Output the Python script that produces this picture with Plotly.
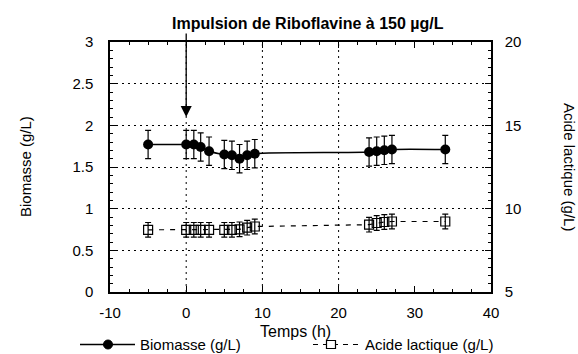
import plotly.graph_objects as go

# Temps (h)
temps_bio = [-5, 0, 1, 1.9, 3, 5, 6, 7, 8, 9, 24, 25, 26, 27, 34]
biomasse = [1.77, 1.77, 1.77, 1.74, 1.69, 1.65, 1.64, 1.60, 1.64, 1.66, 1.68, 1.69, 1.70, 1.71, 1.71]
biomasse_err = [0.17] * len(biomasse)

temps_lac = [-5, 0, 1, 1.9, 3, 5, 6, 7, 8, 9, 24, 25, 26, 27, 34]
acide_lactique = [8.73, 8.73, 8.73, 8.73, 8.73, 8.73, 8.73, 8.76, 8.86, 8.93, 9.04, 9.14, 9.20, 9.23, 9.23]
acide_err = [0.44] * len(acide_lactique)

x_ticks = [-10, 0, 10, 20, 30, 40]
x_ticktext = ["-10", "0", "10", "20", "30", "40"]
y_ticks = [0, 0.5, 1, 1.5, 2, 2.5, 3]
y2_ticks = [5, 10, 15, 20]
x_grid = [0, 10, 20]

FONT = "Liberation Sans, Arial, sans-serif"
FS = 15
DOT = "2px,4px"

fig = go.Figure()

fig.add_trace(go.Scatter(
    x=temps_bio, y=biomasse, name="Biomasse (g/L)",
    mode="lines+markers",
    line=dict(color="black", width=1.5, shape="spline", smoothing=1.0),
    marker=dict(symbol="circle", size=10, color="black"),
    error_y=dict(type="data", array=biomasse_err, color="black", thickness=1.2, width=3),
    showlegend=False,
))

fig.add_trace(go.Scatter(
    x=temps_lac, y=acide_lactique, name="Acide lactique (g/L)",
    mode="lines+markers", yaxis="y2",
    line=dict(color="black", width=1.2, dash="5px,6px"),
    marker=dict(symbol="square-open", size=9, color="black", line=dict(width=1.2)),
    error_y=dict(type="data", array=acide_err, color="black", thickness=1.2, width=3),
    showlegend=False,
))

axis_common = dict(
    showline=True, linecolor="black", linewidth=1.5, mirror="ticks",
    ticks="inside", ticklen=6, tickcolor="black",
    tickfont=dict(family=FONT, size=FS, color="black"),
    zeroline=False,
)

fig.update_layout(
    width=578, height=354,
    margin=dict(l=110, r=87, t=42, b=62, autoexpand=False),
    paper_bgcolor="white", plot_bgcolor="white",
    font=dict(family=FONT, size=FS, color="black"),
    showlegend=False,
    xaxis=dict(
        range=[-10, 40], tickvals=x_ticks, ticktext=x_ticktext,
        showgrid=False, ticklabelstandoff=6,
        minor=dict(dtick=2.5, ticks="inside", ticklen=3, tickcolor="black"),
        **axis_common,
    ),
    yaxis=dict(
        range=[0, 3], tickvals=y_ticks, ticklabelstandoff=12,
        showgrid=True, gridcolor="black", griddash=DOT, gridwidth=1,
        minor=dict(dtick=0.1, ticks="inside", ticklen=3, tickcolor="black"),
        **axis_common,
    ),
    yaxis2=dict(
        range=[5, 20], tickvals=y2_ticks, overlaying="y", side="right",
        showgrid=False, ticklabelstandoff=9,
        minor=dict(dtick=1, ticks="inside", ticklen=3, tickcolor="black"),
        showline=True, linecolor="black", linewidth=1.5,
        ticks="inside", ticklen=6, tickcolor="black",
        tickfont=dict(family=FONT, size=FS, color="black"),
        zeroline=False,
    ),
)

# Dotted vertical grid lines
for gx in x_grid:
    fig.add_shape(type="line", xref="x", yref="paper", x0=gx, x1=gx, y0=0, y1=1,
                  line=dict(color="black", width=1, dash=DOT), layer="below")

txt = dict(family=FONT, size=FS, color="black")

# Axis titles
fig.add_annotation(x=0, xref="paper", xshift=-85, xanchor="center", y=0.5, yref="paper",
                   yanchor="middle", text="Biomasse (g/L)", textangle=-90, showarrow=False, font=txt)
fig.add_annotation(x=1, xref="paper", xshift=79, xanchor="center", y=0.5, yref="paper",
                   yanchor="middle", text="Acide lactique (g/L)", textangle=90, showarrow=False, font=txt)
fig.add_annotation(x=0.486, xref="paper", xanchor="center", y=-0.158, yref="paper", yanchor="middle",
                   text="Temps (h)", showarrow=False, font=dict(family=FONT, size=16, color="black"))

# Pulse marker at t = 0
fig.add_annotation(
    x=0, y=2.1, xref="x", yref="y",
    ax=0, ay=3.12, axref="x", ayref="y",
    text="", showarrow=True, arrowhead=2, arrowsize=1.7, arrowwidth=1.3, arrowcolor="black",
)
fig.add_annotation(
    x=0.52, xref="paper", y=1.0, yref="paper", yshift=19, yanchor="middle",
    text="<b>Impulsion de Riboflavine à 150 µg/L</b>", showarrow=False,
    font=dict(family=FONT, size=16, color="black"),
)

# Legend drawn below the x axis
LEG_Y = -0.21
def px(v):
    return (v - 110) / 381

fig.add_shape(type="line", xref="paper", yref="paper", x0=px(80), x1=px(135), y0=LEG_Y, y1=LEG_Y,
              line=dict(color="black", width=1.5))
fig.add_shape(type="circle", xref="paper", yref="paper", xsizemode="pixel", ysizemode="pixel",
              xanchor=px(108), yanchor=LEG_Y, x0=-4.5, x1=4.5, y0=-4.5, y1=4.5,
              fillcolor="black", line=dict(color="black", width=1))
fig.add_annotation(x=px(138), xref="paper", y=LEG_Y, yref="paper", xanchor="left", yanchor="middle",
                   text="Biomasse (g/L)", showarrow=False, font=txt)

fig.add_shape(type="line", xref="paper", yref="paper", x0=px(313), x1=px(360), y0=LEG_Y, y1=LEG_Y,
              line=dict(color="black", width=1.2, dash="5px,5px"))
fig.add_shape(type="rect", xref="paper", yref="paper", xsizemode="pixel", ysizemode="pixel",
              xanchor=px(331), yanchor=LEG_Y, x0=-4.5, x1=4.5, y0=-4, y1=4,
              fillcolor="white", line=dict(color="black", width=1.2))
fig.add_annotation(x=px(363), xref="paper", y=LEG_Y, yref="paper", xanchor="left", yanchor="middle",
                   text="Acide lactique (g/L)", showarrow=False, font=txt)

fig.write_html("out.html")
